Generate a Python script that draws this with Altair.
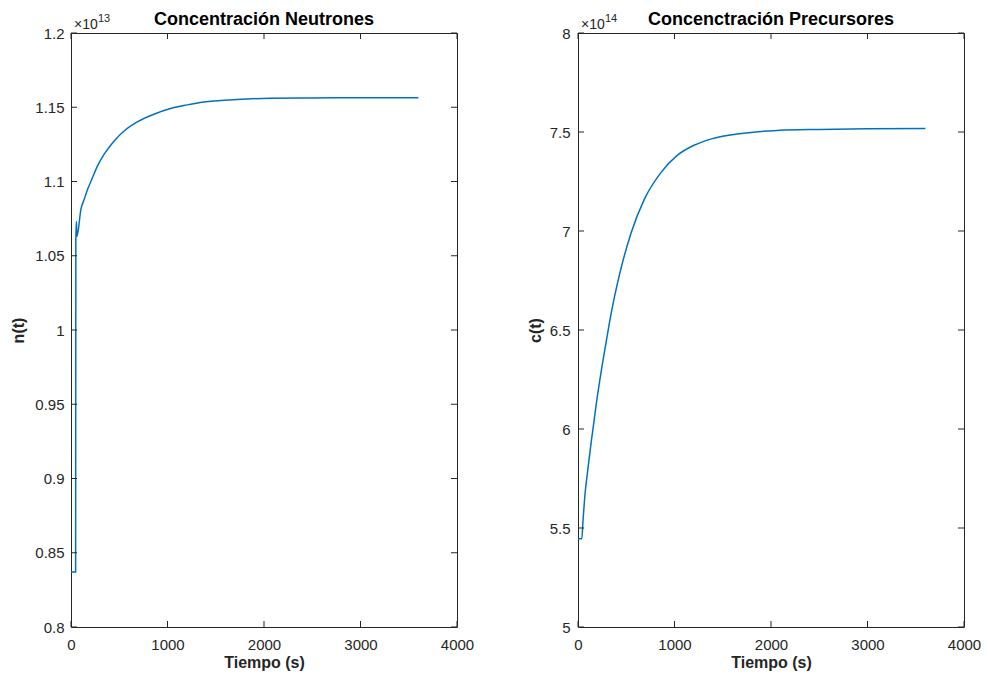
import altair as alt
import pandas as pd

# ---- data ----
t_n = [0, 48, 50, 56, 62, 103, 137, 172, 206, 275, 344, 447, 550, 687, 859,
       1031, 1203, 1374, 1718, 2062, 2500, 3000, 3600]
n_vals = [0.837, 0.837, 1.060, 1.073, 1.063, 1.0814, 1.088, 1.0948, 1.100,
          1.1105, 1.1184, 1.1273, 1.134, 1.1401, 1.1453, 1.1491, 1.1516, 1.1536,
          1.1552, 1.1561, 1.1563, 1.1564, 1.1564]

t_c = [0, 40, 52, 69, 103, 137, 155, 189, 240, 292, 344, 430, 550, 687, 859, 1031,
       1203, 1374, 1718, 2062, 2500, 3000, 3600]
c_vals = [5.446, 5.446, 5.54, 5.65, 5.80, 5.935, 6.0, 6.125, 6.29, 6.44, 6.585,
          6.78, 6.99, 7.16, 7.295, 7.383, 7.433, 7.464, 7.494, 7.508, 7.513,
          7.516, 7.518]

x_ticks = [0, 1000, 2000, 3000, 4000]
n_ticks = [0.8, 0.85, 0.9, 0.95, 1.0, 1.05, 1.1, 1.15, 1.2]
c_ticks = [5, 5.5, 6, 6.5, 7, 7.5, 8]

titles = ["Concentración Neutrones", "Concenctración Precursores"]
y_titles = ["n(t)", "c(t)"]
x_title = "Tiempo (s)"
exp_base = ["×10", "×10"]
exp_pow = ["13", "14"]

# ---- style ----
W, H = 386, 594
AX = "#262626"
LINE = "#0072BD"
FONT = "Liberation Sans"
TL = 6  # inward tick length


def panel(t, v, yticks, ydom, ytitle, title, eb, ep, ytitle_x, ylab_pad):
    df = pd.DataFrame({"t": t, "v": v})
    xs = alt.Scale(domain=[0, 4000], nice=False)
    ys = alt.Scale(domain=ydom, nice=False, zero=False)
    xaxis = alt.Axis(
        values=x_ticks, format="d", title=x_title, ticks=False, domain=False,
        grid=False, labelFont=FONT, labelFontSize=15, labelColor=AX,
        labelPadding=10, labelFlush=False, labelOverlap=False,
        titleFont=FONT, titleFontSize=16, titleFontWeight="bold", titleColor=AX,
        titleX=W / 2, titleY=40, titleBaseline="alphabetic", titleAlign="center")
    yaxis = alt.Axis(
        values=yticks, format="~g", title=ytitle, ticks=False, domain=False,
        grid=False, labelFont=FONT, labelFontSize=15, labelColor=AX,
        labelPadding=ylab_pad, labelFlush=False, labelOverlap=False,
        titleFont=FONT, titleFontSize=16, titleFontWeight="bold", titleColor=AX,
        titleX=ytitle_x, titleY=H / 2, titleAngle=270, titleBaseline="middle",
        titleAlign="center")

    line = alt.Chart(df).mark_line(
        color=LINE, strokeWidth=1.5, interpolate="monotone"
    ).encode(
        x=alt.X("t:Q", scale=xs, axis=xaxis),
        y=alt.Y("v:Q", scale=ys, axis=yaxis),
    )

    ytdf = pd.DataFrame({"v": yticks})
    xtdf = pd.DataFrame({"t": x_ticks})
    rule = dict(color=AX, strokeWidth=1)
    yl = alt.Chart(ytdf).mark_rule(**rule).encode(
        y=alt.Y("v:Q", scale=ys, axis=yaxis), x=alt.value(0), x2=alt.value(TL))
    yr = alt.Chart(ytdf).mark_rule(**rule).encode(
        y=alt.Y("v:Q", scale=ys, axis=yaxis), x=alt.value(W - TL), x2=alt.value(W))
    xb = alt.Chart(xtdf).mark_rule(**rule).encode(
        x=alt.X("t:Q", scale=xs, axis=xaxis), y=alt.value(H), y2=alt.value(H - TL))
    xt = alt.Chart(xtdf).mark_rule(**rule).encode(
        x=alt.X("t:Q", scale=xs, axis=xaxis), y=alt.value(0), y2=alt.value(TL))

    e1 = alt.Chart(pd.DataFrame({"s": [eb]})).mark_text(
        font=FONT, fontSize=14, color=AX, align="left", baseline="alphabetic"
    ).encode(text="s:N", x=alt.value(3), y=alt.value(-4))
    e2 = alt.Chart(pd.DataFrame({"s": [ep]})).mark_text(
        font=FONT, fontSize=11, color=AX, align="left", baseline="alphabetic"
    ).encode(text="s:N", x=alt.value(27), y=alt.value(-11))
    tt = alt.Chart(pd.DataFrame({"s": [title]})).mark_text(
        font=FONT, fontSize=18, fontWeight="bold", color="black", align="center",
        baseline="alphabetic"
    ).encode(text="s:N", x=alt.value(W / 2), y=alt.value(-8))

    return alt.layer(line, yl, yr, xb, xt, e1, e2, tt).properties(width=W, height=H)


left = panel(t_n, n_vals, n_ticks, [0.8, 1.2], y_titles[0], titles[0],
             exp_base[0], exp_pow[0], -53, 7)
right = panel(t_c, c_vals, c_ticks, [5, 8], y_titles[1], titles[1],
              exp_base[1], exp_pow[1], -43, 8)

chart = alt.hconcat(left, right, spacing=121, bounds="flush").configure_view(
    stroke=AX, strokeWidth=1
).properties(
    autosize=alt.AutoSizeParams(type="none"),
    padding={"left": 63, "top": 25, "right": 910, "bottom": 638},
    background="white",
)

chart.save("out.html", embed_options={"renderer": "svg", "actions": False})
